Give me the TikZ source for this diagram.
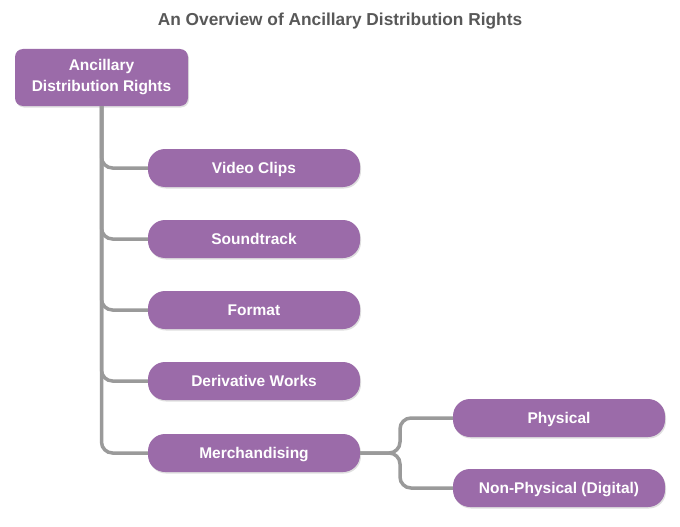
\documentclass[tikz,border=0pt]{standalone}
\usepackage{fontspec}
\setmainfont{Liberation Sans}
\usetikzlibrary{shadows}
\newlength{\du}
\setlength{\du}{1pt}
\definecolor{boxfill}{HTML}{9B6BA9}
\definecolor{linkgray}{HTML}{9A9A9A}
\definecolor{titlegray}{HTML}{585858}
\tikzset{
  itembox/.style={draw=none, fill=boxfill, text=white, font=\fontsize{15.5}{18}\selectfont\bfseries,
    minimum width=212\du, minimum height=38\du, inner sep=0pt, rounded corners=17\du,
    text height=11.5\du, text depth=0.5\du,
    drop shadow={opacity=0.25, shadow xshift=1\du, shadow yshift=-1.5\du}},
  rootbox/.style={itembox, minimum width=173\du, minimum height=57\du, rounded corners=8\du,
    text height=, text depth=, align=center, font=\fontsize{15.5}{21}\selectfont\bfseries},
  link/.style={draw=linkgray, line width=3.5\du, rounded corners=11\du},
}
\begin{document}
\begin{tikzpicture}
\pgftransformxscale{1.000000}
\pgftransformyscale{-1.000000}
\useasboundingbox (0\du,0\du) rectangle (680\du,527\du);
% title
\node[text=titlegray, font=\fontsize{17.3}{20}\selectfont\bfseries] (title) at (340\du,21\du) {An Overview of Ancillary Distribution Rights};
% root
\node[rootbox] (adr) at (101.5\du,77.5\du) {Ancillary\\Distribution Rights};
% first level
\node[itembox] (clips) at (254\du,168\du) {Video Clips};
\node[itembox] (sound) at (254\du,239\du) {Soundtrack};
\node[itembox] (format) at (254\du,310\du) {Format};
\node[itembox] (deriv) at (254\du,381\du) {Derivative Works};
\node[itembox] (merch) at (254\du,453\du) {Merchandising};
% second level
\node[itembox] (phys) at (559\du,418\du) {Physical};
\node[itembox] (digital) at (559\du,488\du) {Non-Physical (Digital)};
\coordinate (fork) at (400\du,453\du);
% connectors
\begin{scope}[on background layer/.try]
\foreach \n in {clips,sound,format,deriv,merch}{
  \draw[link] (adr.south) |- (\n.west);
}
\draw[link] (merch.east) -- (fork) |- (phys.west);
\draw[link] (merch.east) -- (fork) |- (digital.west);
\end{scope}
\end{tikzpicture}
\end{document}
